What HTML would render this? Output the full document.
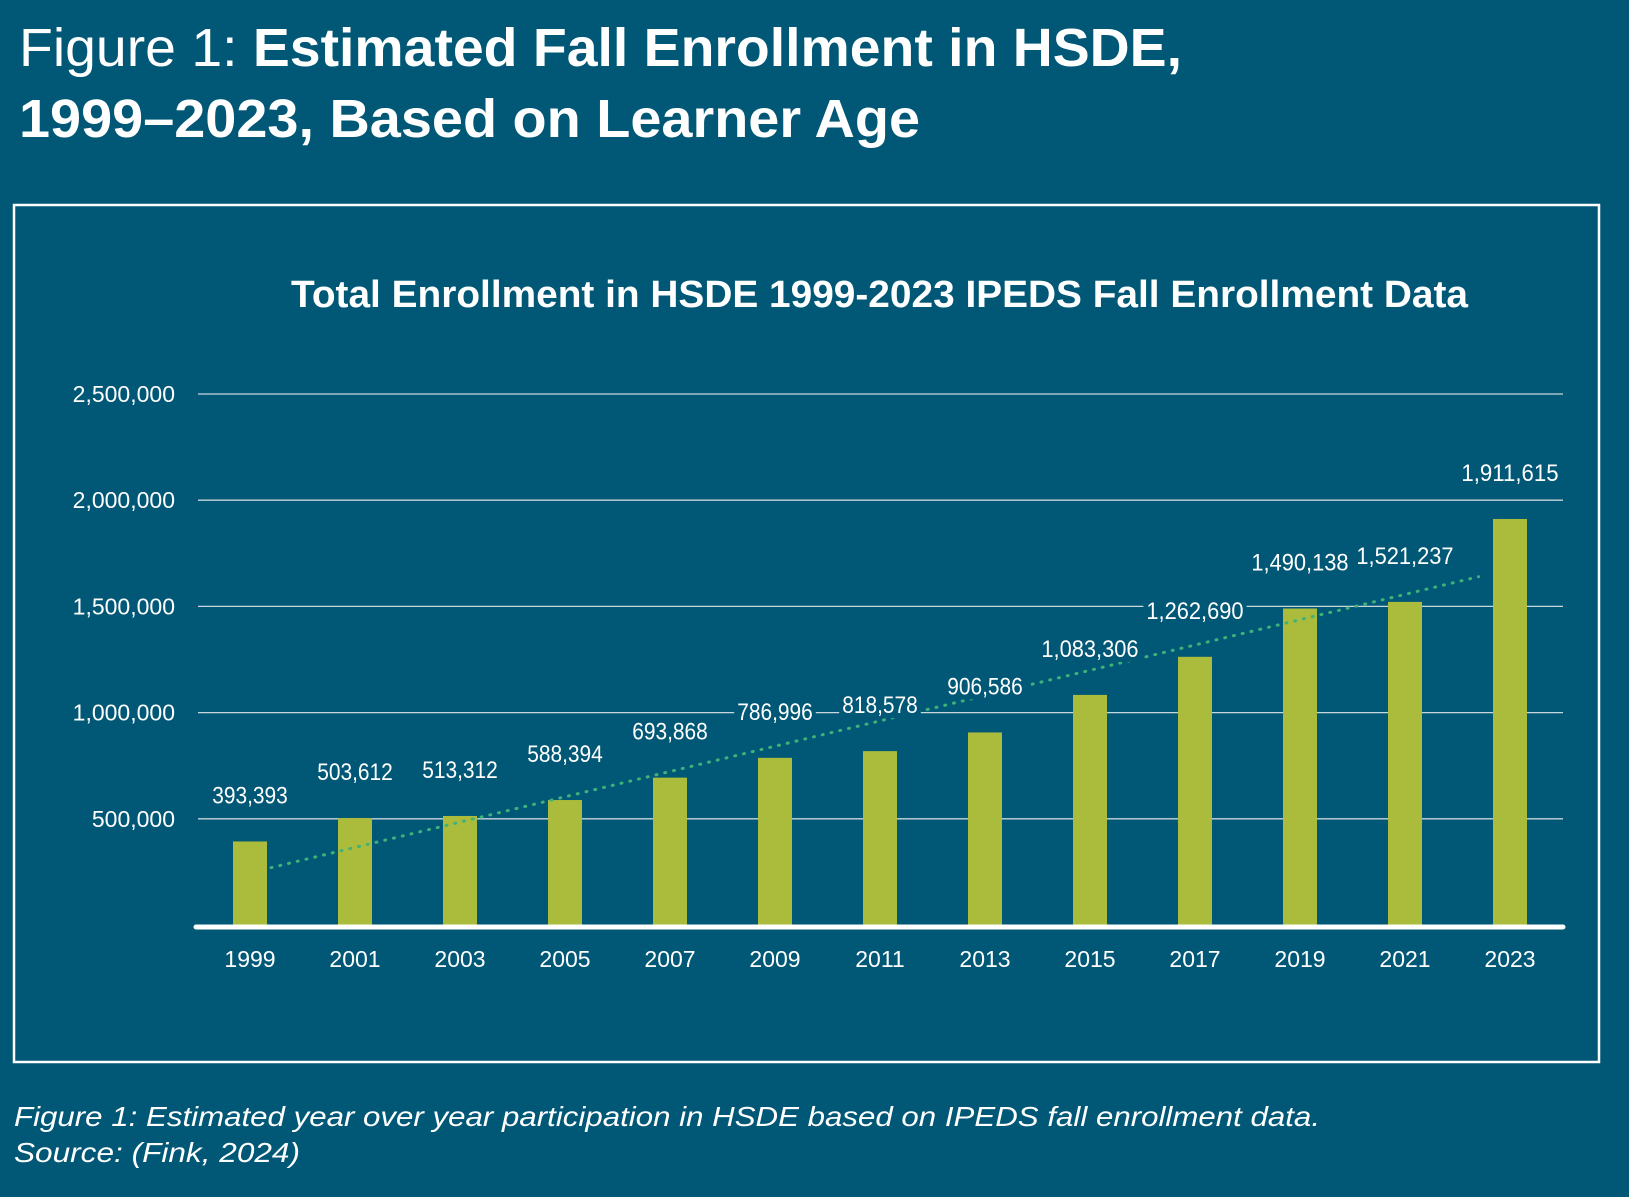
<!DOCTYPE html>
<html><head><meta charset="utf-8">
<style>
html,body{margin:0;padding:0;background:#005876;}
svg{display:block;font-family:"Liberation Sans",sans-serif;}
</style></head>
<body>
<svg id="c" width="1629" height="1197" viewBox="0 0 1629 1197" xmlns="http://www.w3.org/2000/svg">
<rect width="1629" height="1197" fill="#005876"/>
<text x="19" y="66" font-size="54" fill="#fff" textLength="1163" lengthAdjust="spacingAndGlyphs"><tspan font-weight="300">Figure 1: </tspan><tspan font-weight="bold">Estimated Fall Enrollment in HSDE,</tspan></text>
<text x="19" y="137" font-size="54" font-weight="bold" fill="#fff" textLength="901" lengthAdjust="spacingAndGlyphs">1999–2023, Based on Learner Age</text>
<rect x="14" y="205" width="1585" height="857" fill="none" stroke="#fff" stroke-width="2.5"/>
<text x="291" y="307" font-size="38" font-weight="bold" fill="#fff" textLength="1177" lengthAdjust="spacingAndGlyphs">Total  Enrollment in HSDE 1999-2023 IPEDS Fall Enrollment Data</text>
<g id="plot"></g>
<text x="14" y="1126" font-size="28" font-style="italic" fill="#fff" textLength="1306" lengthAdjust="spacingAndGlyphs">Figure 1: Estimated year over year participation in HSDE based on IPEDS fall enrollment data.</text>
<text x="14" y="1162" font-size="28" font-style="italic" fill="#fff" textLength="286" lengthAdjust="spacingAndGlyphs">Source: (Fink, 2024)</text>
</svg>
<script>
const years = ["1999","2001","2003","2005","2007","2009","2011","2013","2015","2017","2019","2021","2023"];
const enrollment = [393393,503612,513312,588394,693868,786996,818578,906586,1083306,1262690,1490138,1521237,1911615];
const valueLabels = ["393,393","503,612","513,312","588,394","693,868","786,996","818,578","906,586","1,083,306","1,262,690","1,490,138","1,521,237","1,911,615"];
const yTicks = [500000,1000000,1500000,2000000,2500000];
const yTickLabels = ["500,000","1,000,000","1,500,000","2,000,000","2,500,000"];
const trendIdx = [0.2, 11.7];
const trendVals = [270000, 1640000];

const NS="http://www.w3.org/2000/svg";
const g=document.getElementById('plot');
const x0=198,x1=1563,yBase=925,yTop=394,vmax=2500000;
const barW=34, firstC=250, step=105;
const yS=v=>yBase-(v/vmax)*(yBase-yTop);
const xS=i=>firstC+i*step;
function mk(tag,attrs){const e=document.createElementNS(NS,tag);for(const k in attrs)e.setAttribute(k,attrs[k]);g.appendChild(e);return e;}

yTicks.forEach((t,i)=>{
  const l=mk('line',{x1:x0,x2:x1,y1:yS(t),y2:yS(t),stroke:'#c9d6dc','stroke-width':1.3});
  
  
  const tx=mk('text',{x:175,y:yS(t)+8,'font-size':23,fill:'#fff','text-anchor':'end'});
  tx.textContent=yTickLabels[i];
  
  
});
enrollment.forEach((v,i)=>{
  const r=mk('rect',{x:xS(i)-barW/2,y:yS(v),width:barW,height:yBase-yS(v),fill:'#abbb3c'});
  
  
  const yr=mk('text',{x:xS(i),y:967,'font-size':23,fill:'#fff','text-anchor':'middle'});
  yr.textContent=years[i];
  
  
});
const tl=mk('line',{x1:xS(trendIdx[0]),y1:yS(trendVals[0]),x2:xS(trendIdx[1]),y2:yS(trendVals[1]),stroke:'#3fb27a','stroke-width':3,'stroke-dasharray':'1 8','stroke-linecap':'round'});


enrollment.forEach((v,i)=>{
  const w=valueLabels[i].length*10.8;
  const bg=mk('rect',{x:xS(i)-w/2-3,y:yS(v)-63,width:w+6,height:30,fill:'#005876'});
  
  
  const t=mk('text',{x:xS(i),y:yS(v)-38,'font-size':24,fill:'#fff','text-anchor':'middle',textLength:w,lengthAdjust:'spacingAndGlyphs'});
  t.textContent=valueLabels[i];
  
  
});
const ax=mk('line',{x1:x0-2,x2:x1,y1:yBase+2,y2:yBase+2,stroke:'#fff','stroke-width':5,'stroke-linecap':'round'});


</script>
</body></html>
